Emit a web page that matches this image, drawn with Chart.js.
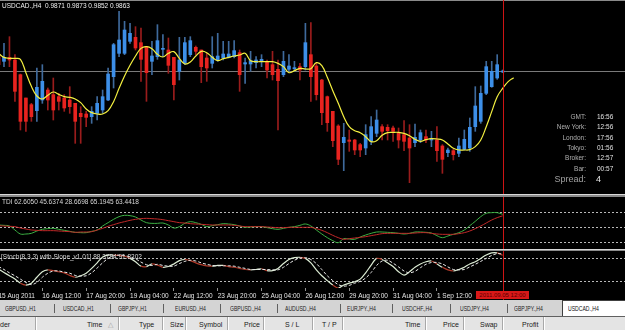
<!DOCTYPE html>
<html>
<head>
<meta charset="utf-8">
<script src="https://cdn.jsdelivr.net/npm/chart.js@4.4.0/dist/chart.umd.min.js"></script>
<style>
body{margin:0;width:625px;height:330px;background:#000;overflow:hidden;position:relative;font-family:'Liberation Sans',Arial,sans-serif}
canvas{position:absolute;left:0}
.t{position:absolute;white-space:nowrap;line-height:1}
.sep{position:absolute;left:0;width:625px;height:1px}
.tab{position:absolute;top:304.5px;font-size:7.5px;color:#1e1e1e;transform:scaleX(0.68);transform-origin:left;white-space:nowrap;line-height:1}
.tbar{position:absolute;top:304px;width:1px;height:9px;background:#606060}
.hd{position:absolute;top:321px;font-size:7px;color:#1a1a1a;white-space:nowrap;line-height:1}
.hbar{position:absolute;top:317px;width:1px;height:13px;background:#a8a8a8;border-right:1px solid #fff}
.inf{position:absolute;font-size:6.5px;line-height:1;white-space:nowrap}
</style>
</head>
<body>
<div class="sep" style="top:0;background:#8a8a8a"></div>
<canvas id="main" width="625" height="194" style="top:0"></canvas>
<div class="sep" style="top:194px;background:#d8d8d8"></div>
<div class="sep" style="top:195px;height:2px;background:#8a8a8a"></div>
<canvas id="tdi" width="625" height="52" style="top:197px"></canvas>
<div class="sep" style="top:249px;background:#d8d8d8"></div>
<div class="sep" style="top:250px;background:#8a8a8a"></div>
<canvas id="stoch" width="625" height="49" style="top:251px"></canvas>

<div class="t" style="left:2px;top:2.5px;font-size:6.5px;color:#f0f0f0">USDCAD.,H4&nbsp; 0.9871 0.9873 0.9852 0.9863</div>
<div class="t" style="left:2px;top:198.5px;font-size:6.5px;color:#d8d8d8">TDI 62.6050 45.6374 28.6698 65.1945 63.4418</div>
<div class="t" style="left:1px;top:253.5px;font-size:6.5px;color:#d8d8d8">[Stoch(8,3,3) with Slope_v1.01] 88.3784 91.8202</div>

<div class="inf" style="right:39px;top:113.5px;color:#b0b0b0">GMT:</div><div class="inf" style="left:597px;top:113.5px;color:#e0e0e0">16:56</div>
<div class="inf" style="right:39px;top:124px;color:#b0b0b0">New York:</div><div class="inf" style="left:597px;top:124px;color:#e0e0e0">12:56</div>
<div class="inf" style="right:39px;top:134.5px;color:#b0b0b0">London:</div><div class="inf" style="left:597px;top:134.5px;color:#e0e0e0">17:56</div>
<div class="inf" style="right:39px;top:144.5px;color:#b0b0b0">Tokyo:</div><div class="inf" style="left:597px;top:144.5px;color:#e0e0e0">01:56</div>
<div class="inf" style="right:39px;top:155px;color:#b0b0b0">Broker:</div><div class="inf" style="left:597px;top:155px;color:#e0e0e0">12:57</div>
<div class="inf" style="right:39px;top:165.5px;color:#b0b0b0">Bar:</div><div class="inf" style="left:597px;top:165.5px;color:#e0e0e0">00:57</div>
<div class="inf" style="right:39px;top:174.5px;font-size:9px;color:#a0a0a0">Spread:</div><div class="inf" style="left:596px;top:174.5px;font-size:9px;color:#e8e8e8">4</div>

<div class="t" style="left:476px;top:291px;width:53px;height:8px;background:#d81818;color:#5a0000;font-size:6px;line-height:8px;text-align:center">2011.09.05 12:00</div>

<div style="position:absolute;left:0;top:300px;width:625px;height:16px;background:#d4d4d4"></div>
<div id="tabs"></div>
<div style="position:absolute;left:562px;top:300px;width:63px;height:16px;background:#fff;border-left:1px solid #404040;border-top:1px solid #404040;box-sizing:border-box"></div>
<div class="tab" style="left:568px;color:#101010">USDCAD.,H4</div>
<div style="position:absolute;left:0;top:316px;width:625px;height:1px;background:#606060"></div>
<div style="position:absolute;left:0;top:317px;width:625px;height:13px;background:#e4e4e4"></div>
<div id="head"></div>

<script>
// candles, H4 USDCAD (index 0 = first visible bar)
const open = [.9888,.9878,.9884,.9880,.9858,.9823,.9813,.9804,.9820,.9835,
  .9828,.9825,.9823,.9820,.9815,.9800,.9799,.9795,.9800,.9805,
  .9820,.9855,.9890,.9890,.9908,.9914,.9906,.9900,.9878,.9885,
  .9896,.9895,.9884,.9863,.9875,.9888,.9899,.9895,.9883,.9875,
  .9880,.9883,.9884,.9885,.9891,.9874,.9874,.9876,.9878,.9878,
  .9873,.9866,.9858,.9866,.9867,.9870,.9870,.9888,.9871,.9850,
  .9825,.9803,.9781,.9756,.9760,.9760,.9753,.9748,.9758,.9770,
  .9780,.9779,.9778,.9771,.9768,.9763,.9756,.9760,.9765,.9760,
  .9760,.9751,.9741,.9744,.9740,.9746,.9748,.9780,.9788,.9830,
  .9840,.9853,.9862];
const high = [.9890,.9905,.9915,.9888,.9859,.9823,.9815,.9868,.9873,.9838,
  .9853,.9830,.9828,.9840,.9815,.9810,.9803,.9810,.9825,.9835,
  .9868,.9905,.9953,.9938,.9935,.9930,.9928,.9900,.9908,.9933,
  .9918,.9913,.9884,.9914,.9914,.9915,.9901,.9895,.9890,.9915,
  .9920,.9908,.9908,.9909,.9895,.9883,.9893,.9885,.9888,.9880,
  .9893,.9880,.9893,.9888,.9878,.9875,.9935,.9936,.9875,.9851,
  .9826,.9803,.9783,.9785,.9775,.9761,.9755,.9783,.9795,.9805,
  .9783,.9783,.9781,.9778,.9789,.9783,.9784,.9775,.9775,.9773,
  .9780,.9753,.9748,.9746,.9763,.9775,.9793,.9840,.9841,.9878,
  .9878,.9888,.9865];
const low = [.9870,.9870,.9870,.9818,.9775,.9773,.9788,.9788,.9815,.9805,
  .9790,.9805,.9803,.9800,.9755,.9755,.9780,.9785,.9790,.9800,
  .9819,.9838,.9885,.9888,.9905,.9895,.9848,.9818,.9858,.9881,
  .9885,.9860,.9820,.9850,.9873,.9885,.9888,.9846,.9848,.9868,
  .9878,.9880,.9883,.9883,.9833,.9845,.9863,.9868,.9870,.9853,
  .9850,.9775,.9855,.9863,.9863,.9850,.9865,.9818,.9820,.9783,
  .9773,.9750,.9723,.9714,.9743,.9738,.9735,.9738,.9753,.9765,
  .9760,.9760,.9758,.9748,.9744,.9696,.9750,.9756,.9756,.9750,
  .9728,.9710,.9735,.9730,.9735,.9745,.9743,.9773,.9785,.9828,
  .9839,.9851,.9861];
const close = [.9873,.9884,.9880,.9833,.9788,.9788,.9795,.9839,.9848,.9820,
  .9805,.9818,.9808,.9810,.9788,.9795,.9794,.9803,.9815,.9825,
  .9859,.9903,.9910,.9925,.9920,.9898,.9881,.9861,.9886,.9909,
  .9897,.9872,.9843,.9880,.9906,.9909,.9893,.9870,.9868,.9885,
  .9886,.9889,.9889,.9894,.9858,.9876,.9879,.9880,.9881,.9865,
  .9858,.9849,.9878,.9871,.9868,.9865,.9906,.9855,.9828,.9801,
  .9786,.9759,.9731,.9764,.9758,.9745,.9745,.9768,.9780,.9790,
  .9773,.9774,.9773,.9760,.9758,.9748,.9764,.9771,.9760,.9762,
  .9744,.9731,.9745,.9738,.9751,.9761,.9779,.9811,.9830,.9870,
  .9863,.9873,.9863];
// shifted moving average (runs 2 bars past the last candle)
const ma = [.9890,.9884,.98825,.98825,.9881,.9861,.98405,.9826,.98215,.9827,
  .9832,.98285,.9825,.9824,.98215,.9816,.98065,.9801,.9799,.9799,
  .9804,.98175,.98375,.9856,.9872,.9886,.98975,.9900,.9897,.98885,
  .98845,.9890,.98925,.98825,.9874,.9877,.9886,.9893,.9891,.9884,
  .9879,.9882,.9884,.9886,.98875,.9890,.9879,.98775,.98775,.98775,
  .98775,.9875,.9870,.9861,.9864,.98675,.98665,.9867,.9876,.98715,
  .9854,.9834,.9815,.9795,.9780,.9774,.9771,.9765,.97575,.9759,
  .9767,.9771,.97715,.97715,.9770,.97665,.9761,.9758,.97605,.9762,
  .97615,.9760,.9754,.97475,.9745,.9745,.97455,.9750,.9760,.9780,
  .98025,.9825,.98375,.98475,.98535];
const bidPrice = 0.9863;

// TDI: green = RSI price line, red = trade signal line
const tdiGreen = [52.4,52.0,51.2,46.4,41.6,41.6,42.4,45.2,47.2,48.0,
  48.4,47.2,46.0,44.8,43.6,43.2,43.2,44.8,46.4,51.2,
  55.2,59.2,62.4,64.0,63.6,62.0,58.4,55.2,54.4,54.4,
  54.8,52.4,48.8,50.4,54.4,56.4,55.2,53.2,50.4,51.6,
  52.8,54.0,53.6,52.8,51.2,49.6,50.0,50.4,50.4,49.2,
  48.0,47.2,48.4,49.6,50.4,52.0,53.6,51.2,46.4,41.6,
  37.2,33.6,31.2,36.0,35.6,35.2,38.0,40.4,42.4,44.0,
  44.0,43.6,43.2,42.4,41.6,42.4,44.0,44.0,43.6,42.8,
  39.6,37.2,39.2,41.2,43.2,46.4,51.6,56.8,62.4,66.4,
  67.2,67.2,65.2];
const tdiRed = [51.6,51.2,50.8,50.4,48.8,47.6,46.4,46.0,45.6,45.6,
  45.6,45.2,44.8,44.4,43.6,44.0,44.0,44.4,46.4,48.4,
  50.8,52.8,54.8,56.4,58.0,59.2,60.0,60.4,60.0,59.6,
  58.8,57.6,56.4,55.2,54.8,54.0,53.6,53.2,52.8,52.4,
  52.4,52.4,52.4,52.0,51.2,50.4,50.4,50.4,50.4,50.0,
  49.6,49.2,49.2,49.6,49.6,49.6,49.6,49.6,48.0,46.0,
  43.2,40.0,37.2,35.2,36.0,36.8,37.6,38.4,39.6,40.8,
  42.0,42.4,42.4,42.4,42.4,42.4,42.8,43.2,43.2,42.4,
  41.6,41.2,41.2,41.2,42.0,43.2,45.2,48.0,51.2,54.8,
  58.4,61.2,63.4];
const tdiLevels = [32, 50, 68];

// Stochastic 8,3,3
const stochMain = [51,42,33,24,13,8,13,29,44,49,
  47,44,41,34,29,33,40,53,68,84,
  89,89,88,86,80,71,59,58,65,62,
  56,58,65,74,77,74,68,63,60,59,
  61,61,58,56,53,50,49,50,52,47,
  47,53,66,77,82,83,80,68,49,33,
  20,8,0,8,13,17,24,41,62,80,
  77,68,58,44,35,44,56,65,71,73,
  65,56,49,46,50,56,65,71,80,89,
  95,95,88.4];
const stochSignal = [58,50,41,33,24,15,9,15,29,40,
  46,46,43,40,34,32,33,41,54,68,
  80,87,89,88,84,79,70,63,61,64,
  61,59,59,66,72,75,73,68,64,61,
  60,60,60,59,56,53,50,50,50,50,
  49,49,56,66,75,81,82,77,66,50,
  33,20,9,5,7,13,18,27,42,61,
  73,75,67,57,46,41,45,55,64,69,
  69,65,57,50,49,50,57,64,72,80,
  88,93,91.8];
const stochLevels = [20, 80];

const tickIdx = [0, 8, 16, 24, 32, 40, 48, 56, 64, 72, 80];
const tickLabels = ['15 Aug 2011', '16 Aug 12:00', '17 Aug 20:00', '19 Aug 04:00', '22 Aug 12:00',
  '23 Aug 20:00', '25 Aug 04:00', '26 Aug 12:00', '29 Aug 20:00', '31 Aug 04:00', '1 Sep 12:00'];
const cursorAt = 92.1;

const tabNames = ['GBPUSD.,H1', 'USDCAD.,H1', 'GBPJPY.,H1', 'EURUSD.,H4', 'GBPUSD.,H4', 'AUDUSD.,H4',
  'EURJPY.,H4', 'USDCHF.,H4', 'USDJPY.,H4', 'GBPJPY.,H4'];
const tabX = [5, 63, 118, 175, 230, 285, 347, 402, 460, 514];
const tabSep = [54, 110, 163, 220, 277, 340, 392, 450, 507];
const headNames = ['der', 'Time', '\u25B3', 'Type', 'Size', 'Symbol', 'Price', 'S / L', 'T / P', 'Time', 'Price', 'Swap', 'Profit'];
const headX = [0, 87, 108, 139, 170, 199, 244, 285, 322, 405, 443, 480, 522];
const headSep = [35, 118, 162, 185, 227, 263, 312, 342, 425, 463, 502, 543];

// bottom strip: tabs + terminal header
let html = '';
tabNames.forEach((n, i) => { html += '<div class="tab" style="left:' + tabX[i] + 'px">' + n + '</div>'; });
tabSep.forEach(x => { html += '<div class="tbar" style="left:' + x + 'px"></div>'; });
document.getElementById('tabs').innerHTML = html;
html = '';
headSep.forEach(x => { html += '<div class="hbar" style="left:' + x + 'px"></div>'; });
headNames.forEach((n, i) => {
  html += '<div class="hd" style="left:' + headX[i] + 'px' + (n === '\u25B3' ? ';color:#a0a0a0' : '') + '">' + n + '</div>';
});
document.getElementById('head').innerHTML = html;

const RED = '#e8231f', BLUE = '#3d8fe8';
const X_MIN = 0.274, X_MAX = 114.32;
const xHidden = { type: 'linear', min: X_MIN, max: X_MAX, bounds: 'data', display: false, offset: false };

function levelLines(id, values, color, dash) {
  return {
    id: id,
    beforeDatasetsDraw(chart) {
      const { ctx, chartArea: a, scales: { y } } = chart;
      ctx.save();
      ctx.strokeStyle = color;
      ctx.lineWidth = 1;
      ctx.setLineDash(dash);
      values.forEach(v => {
        const py = Math.round(y.getPixelForValue(v)) + 0.5;
        ctx.beginPath(); ctx.moveTo(a.left, py); ctx.lineTo(a.right, py); ctx.stroke();
      });
      ctx.restore();
    }
  };
}
// shift/cursor marker drawn across every panel
const cursorLine = {
  id: 'cursorLine',
  afterDraw(chart) {
    const { ctx, scales: { x } } = chart;
    const px = Math.round(x.getPixelForValue(cursorAt));
    ctx.save();
    ctx.fillStyle = 'rgb(205,20,20)';
    ctx.fillRect(px, 0, 1, chart.height);
    ctx.restore();
  }
};

const common = {
  responsive: false,
  animation: false,
  events: [],
  layout: { padding: 0 },
  plugins: { legend: { display: false }, tooltip: { enabled: false } }
};

new Chart(document.getElementById('main'), {
  type: 'bar',
  data: {
    datasets: [
      {
        type: 'line',
        data: ma.map((v, i) => ({ x: i, y: v })),
        borderColor: '#f4f040',
        borderWidth: 1.2,
        pointRadius: 0,
        tension: 0.4,
        order: 0
      },
      {
        data: open.map((o, i) => ({ x: i, y: [o, close[i]] })),
        backgroundColor: open.map((o, i) => close[i] >= o ? BLUE : RED),
        barThickness: 3,
        minBarLength: 1,
        grouped: false,
        order: 1
      },
      {
        data: low.map((l, i) => ({ x: i, y: [l, high[i]] })),
        backgroundColor: open.map((o, i) => close[i] >= o ? '#3f6a9c' : '#9a1c1c'),
        barThickness: 1,
        grouped: false,
        order: 2
      }
    ]
  },
  options: {
    ...common,
    scales: {
      x: xHidden,
      y: { type: 'linear', min: 0.9679, max: 0.9970, bounds: 'data', beginAtZero: false, display: false }
    }
  },
  plugins: [levelLines('bidLine', [bidPrice], '#7a7a7a', []), cursorLine]
});

new Chart(document.getElementById('tdi'), {
  type: 'line',
  data: {
    datasets: [
      { data: tdiRed.map((v, i) => ({ x: i, y: v })), borderColor: '#c02828', borderWidth: 1, pointRadius: 0, tension: 0.4 },
      { data: tdiGreen.map((v, i) => ({ x: i, y: v })), borderColor: '#3cb043', borderWidth: 1, pointRadius: 0, tension: 0.4 }
    ]
  },
  options: {
    ...common,
    scales: {
      x: xHidden,
      y: { type: 'linear', min: 23.6, max: 86, bounds: 'data', display: false }
    }
  },
  plugins: [levelLines('tdiLevels', tdiLevels, '#b8b8b8', [2, 2]), cursorLine]
});

new Chart(document.getElementById('stoch'), {
  type: 'line',
  data: {
    datasets: [
      {
        data: stochSignal.map((v, i) => ({ x: i, y: v })),
        borderColor: '#e8e8e8', borderWidth: 1, borderDash: [3, 2], pointRadius: 0, tension: 0.3
      },
      {
        data: stochMain.map((v, i) => ({ x: i, y: v })),
        borderColor: '#dcecd4', borderWidth: 1.2, pointRadius: 0, tension: 0.3,
        segment: {
          borderColor: c => {
            const d = c.p1.parsed.y - c.p0.parsed.y;
            return d < 0 && d > -9 ? '#b03a2a' : '#dcecd4';
          }
        }
      }
    ]
  },
  options: {
    ...common,
    scales: {
      x: {
        type: 'linear', min: X_MIN, max: X_MAX, bounds: 'data', offset: false, position: 'bottom',
        afterBuildTicks: s => { s.ticks = tickIdx.map(v => ({ value: v })); },
        afterFit: s => { s.height = 12; s.paddingLeft = 0; s.paddingRight = 0; },
        ticks: {
          callback: v => tickLabels[tickIdx.indexOf(v)],
          align: 'start', autoSkip: false, maxRotation: 0, padding: 1,
          color: '#e4e4e4', font: { size: 6.5, family: 'Liberation Sans' }
        },
        grid: { drawOnChartArea: false, drawTicks: true, tickLength: 3, color: '#909090' },
        border: { display: false }
      },
      y: { type: 'linear', min: 0, max: 100, bounds: 'data', display: false }
    }
  },
  plugins: [levelLines('stochLevels', stochLevels, '#b8b8b8', [2, 2]), cursorLine]
});
</script>
</body>
</html>
